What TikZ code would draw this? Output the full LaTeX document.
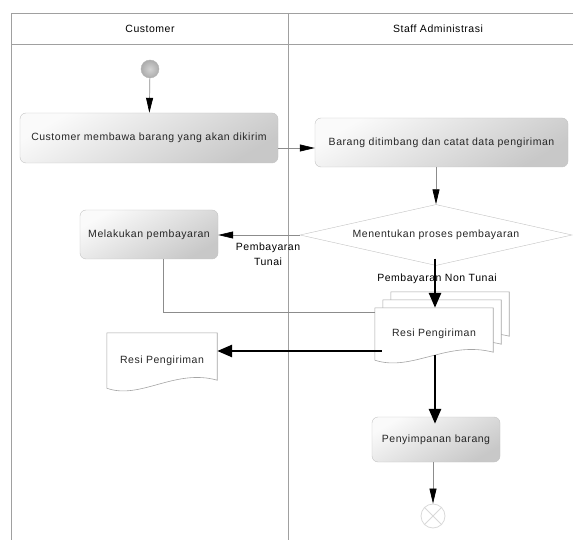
\documentclass[tikz,border=0pt]{standalone}
\usepackage{fontspec}
\setmainfont{Liberation Sans}[LetterSpace=5]
\usepackage{tikz}
\usetikzlibrary{shapes.geometric, arrows.meta, positioning, calc}
\pgfdeclarelayer{background}
\pgfsetlayers{background,main}
\definecolor{laneLine}{RGB}{160, 160, 160}
\definecolor{boxBorder}{RGB}{195, 195, 195}
\definecolor{boxTop}{RGB}{250, 250, 250}
\definecolor{boxBottom}{RGB}{200, 200, 200}
\definecolor{flowGray}{RGB}{140, 140, 140}
\definecolor{docBorder}{RGB}{165, 165, 165}
\tikzstyle{lane} = [draw=laneLine, line width=0.8pt]
\tikzstyle{activity} = [rectangle, rounded corners=6pt, draw=boxBorder, top color=boxTop, bottom color=boxBottom, shading angle=30, text=black!85, inner sep=0pt]
\tikzstyle{decision} = [diamond, aspect=4.46, draw=boxBorder, fill=white, text=black!85, inner sep=0pt, minimum width=272pt, minimum height=61pt]
\tikzstyle{docbox} = [rectangle, inner sep=0pt, text=black!85]
\tikzstyle{docline} = [draw=docBorder, fill=white, line width=0.6pt]
\tikzstyle{arrow} = [draw=flowGray, line width=0.7pt, -{Triangle[length=15pt, width=7pt, color=black]}]
\tikzstyle{thickarrow} = [draw=black, line width=2.8pt, -{Triangle[length=15pt, width=12pt]}]
\tikzstyle{line} = [draw=flowGray, line width=0.7pt]
% outline of a document shape, wavy bottom
\newcommand{\docOutline}[1]{\draw[docline] (#1.south west) -- (#1.north west) -- (#1.north east) -- ($(#1.south east)+(0,-8)$) .. controls ($(#1.south)+(13,-20)$) and ($(#1.south)+(-22,12)$) .. (#1.south west) -- cycle;}

\begin{document}
\begin{tikzpicture}[x=1pt, y=-1pt, font=\fontsize{10.5}{12.6}\selectfont]
\useasboundingbox (0,0) rectangle (573,540);

% swimlanes
\draw[lane] (11,545) -- (11,13) -- (580,13);
\draw[lane] (11,44) -- (580,44);
\draw[lane] (288,13) -- (288,545);
\node (hdrCust) at (150,28.5) {Customer};
\node (hdrStaff) at (438,28.5) {Staff Administrasi};

\node (start) [circle, minimum size=18pt, inner sep=0pt, draw=gray!60, inner color=gray!35, outer color=gray!65] at (150,69) {};
\node (act1) [activity, minimum width=258pt, minimum height=50pt] at (149,138) {Customer membawa barang yang akan dikirim};
\node (act2) [activity, minimum width=253pt, minimum height=49pt] at (441.5,142.5) {Barang ditimbang dan catat data pengiriman};
\node (dec) [decision] at (436,235) {Menentukan proses pembayaran};
\node (bayar) [activity, minimum width=138pt, minimum height=49pt] at (149,234.5) {Melakukan pembayaran};
\node (lblTunai) [align=center] at (268,254) {Pembayaran\\[2pt]Tunai};
\node (lblNon) at (437,279) {Pembayaran Non Tunai};

\node (resiA3) [docbox, minimum width=118pt, minimum height=52pt] at (450,318) {};
\node (resiA2) [docbox, minimum width=118pt, minimum height=52pt] at (442,326) {};
\node (resiA) [docbox, minimum width=118pt, minimum height=52pt] at (434,334) {Resi Pengiriman};
\node (resiB) [docbox, minimum width=110pt, minimum height=55pt] at (162,360.5) {Resi Pengiriman};
\begin{pgfonlayer}{background}
\docOutline{resiA3}
\docOutline{resiA2}
\docOutline{resiA}
\docOutline{resiB}
\end{pgfonlayer}

\node (simpan) [activity, minimum width=128pt, minimum height=45pt] at (436,439.5) {Penyimpanan barang};
\node (fin) [circle, minimum size=24pt, inner sep=0pt, draw=gray!30, line width=0.8pt] at (433,516) {};
\draw[gray!30, line width=0.8pt] (fin.45) -- (fin.225) (fin.135) -- (fin.315);

% flows
\draw[arrow] (start) -- (act1);
\coordinate (k1) at ($(act1.east)+(0,10)$);
\draw[arrow] (k1) -- (k1 -| act2.west);
\draw[arrow] (act2.south -| dec.north) -- (dec.north);
\draw[arrow] (dec.west) -- (dec.west -| bayar.east);
\draw[line] ($(bayar.south)+(14,0)$) |- ($(resiA.north west)+(0,5)$);
\coordinate (k2) at ($(dec.south)+(-1,-7)$);
\draw[thickarrow] (k2) -- (k2 |- resiA.north);
\coordinate (k3) at ($(resiA.west)+(7,17)$);
\draw[thickarrow] (k3) -- (k3 -| resiB.east);
\coordinate (k4) at ($(resiA.south)+(1,-5)$);
\coordinate (k5) at ($(k4 |- simpan.north)+(0,7)$);
\draw[thickarrow] (k4) -- (k5);
\draw[arrow] (simpan.south -| fin.north) -- (fin.north);

\end{tikzpicture}
\end{document}
